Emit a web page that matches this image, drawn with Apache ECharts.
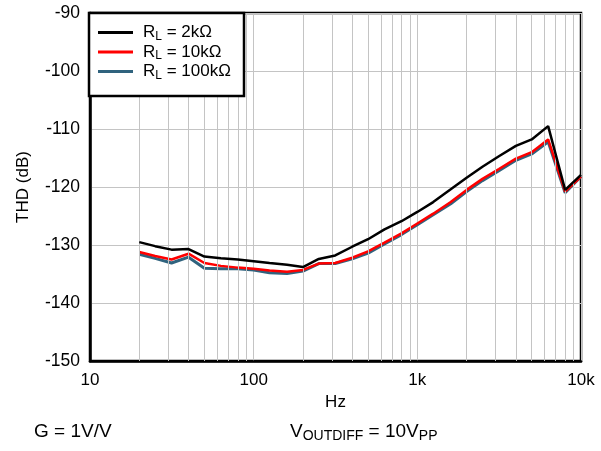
<!DOCTYPE html>
<html><head><meta charset="utf-8">
<script src="https://cdn.jsdelivr.net/npm/echarts@6/dist/echarts.min.js"></script>
<style>html,body{margin:0;padding:0;background:#fff}#c{width:601px;height:451px}</style>
</head><body><div id="c"></div>
<script>
const freqs = [20,25,31.5,40,50,63,80,100,125,160,200,250,315,400,500,630,800,1000,1250,1600,2000,2500,3150,4000,5000,6300,8000,10000];
const thd2k   = [-129.5,-130.2,-130.8,-130.7,-132.0,-132.3,-132.5,-132.8,-133.1,-133.4,-133.8,-132.4,-131.8,-130.3,-129.0,-127.3,-125.9,-124.3,-122.6,-120.4,-118.4,-116.5,-114.7,-112.9,-111.8,-109.5,-120.5,-117.9];
const thd10k  = [-131.2,-131.9,-132.5,-131.5,-133.1,-133.6,-133.9,-134.1,-134.4,-134.6,-134.3,-133.2,-133.1,-132.2,-131.1,-129.6,-128.0,-126.3,-124.6,-122.6,-120.5,-118.6,-116.9,-115.1,-114.0,-111.8,-120.8,-118.2];
const thd100k = [-131.6,-132.3,-133.1,-132.1,-134.0,-134.1,-134.1,-134.3,-134.8,-134.9,-134.5,-133.2,-133.2,-132.4,-131.4,-129.8,-128.2,-126.5,-124.8,-122.9,-120.8,-118.9,-117.2,-115.4,-114.3,-112.2,-121.0,-118.2];
const loadNames = ['2kΩ','10kΩ','100kΩ'];
const seriesColors = ['#000000','#ff0000','#30637e'];
const xTickValues = [10,100,1000,10000];
const xTickLabels = ['10','100','1k','10k'];
const minorGridFreqs = [20,30,40,50,60,70,80,90,200,300,400,500,600,700,800,900,2000,3000,4000,5000,6000,7000,8000,9000];
const yMin = -150, yMax = -90, yStep = 10;
const xName = 'Hz';
const yName = 'THD (dB)';

const FONT = '"Liberation Sans", Arial, sans-serif';
const FS = 17;
const names = loadNames.map(l => 'RL = ' + l);
const richStyles = {
  p: {fontSize: FS, lineHeight: 20, fontFamily: FONT, color: '#000', padding: [0,0,0,5]},
  n: {fontSize: FS, lineHeight: 20, fontFamily: FONT, color: '#000'},
  s: {fontSize: 12, lineHeight: 10, fontFamily: FONT, color: '#000', verticalAlign: 'bottom'}
};
const richNote = {
  n: {fontSize: 19, lineHeight: 22, fontFamily: FONT, color: '#000'},
  s: {fontSize: 14, lineHeight: 12, fontFamily: FONT, color: '#000', verticalAlign: 'bottom'}
};
const dataSets = [thd2k, thd10k, thd100k];
const widths = [2.5, 2.5, 3];
const zs = [5, 4, 3];

const series = dataSets.map((arr, i) => ({
  name: names[i], type: 'line', symbol: 'none', z: zs[i], animation: false,
  data: freqs.map((f, k) => [f, arr[k]]),
  color: seriesColors[i],
  itemStyle: {color: seriesColors[i]},
  lineStyle: {color: seriesColors[i], width: widths[i]}
}));
series.push({
  name: '_grid', type: 'line', data: [], z: 1, animation: false, silent: true,
  markLine: {
    silent: true, symbol: ['none','none'], animation: false,
    label: {show: false},
    lineStyle: {color: '#c4c4c4', width: 1, type: 'solid'},
    emphasis: {disabled: true},
    data: minorGridFreqs.map(v => ({xAxis: v}))
  }
});

const chart = echarts.init(document.getElementById('c'), null, {renderer: 'canvas'});
chart.setOption({
  backgroundColor: '#fff',
  animation: false,
  grid: {left: 90, right: 20, top: 13, bottom: 90, show: true, borderColor: '#000', borderWidth: 2.5, backgroundColor: 'transparent'},
  xAxis: {
    type: 'log', min: 10, max: 10000, logBase: 10,
    name: xName, nameLocation: 'middle', nameGap: 32,
    nameTextStyle: {fontSize: FS, fontFamily: FONT, color: '#000'},
    axisLine: {show: true, lineStyle: {color: '#000', width: 2.5}},
    axisTick: {show: false},
    splitLine: {show: true, lineStyle: {color: '#c4c4c4', width: 1}},
    axisLabel: {fontSize: FS, fontFamily: FONT, color: '#000', margin: 11,
      formatter: v => { const i = xTickValues.indexOf(Math.round(v)); return i >= 0 ? xTickLabels[i] : ''; }}
  },
  yAxis: {
    type: 'value', min: yMin, max: yMax, interval: yStep,
    name: yName, nameLocation: 'middle', nameGap: 58, nameRotate: 90,
    nameTextStyle: {fontSize: FS, fontFamily: FONT, color: '#000'},
    axisLine: {show: true, onZero: false, lineStyle: {color: '#000', width: 2.5}},
    axisTick: {show: false},
    splitLine: {show: true, lineStyle: {color: '#c4c4c4', width: 1}},
    axisLabel: {fontSize: 17.5, fontFamily: FONT, color: '#000', margin: 10}
  },
  legend: {
    data: names, orient: 'vertical', left: 98, top: 24, padding: 0, itemGap: 1,
    icon: 'rect', itemWidth: 35, itemHeight: 3, z: 20, selectedMode: false,
    textStyle: {rich: richStyles},
    formatter: name => '{p|R}{s|L}{n| = ' + loadNames[names.indexOf(name)] + '}'
  },
  graphic: [
    {type: 'rect', z: 10, shape: {x: 89, y: 13, width: 155, height: 83},
     style: {fill: '#fff', stroke: '#000', lineWidth: 2.5}},
    {type: 'text', z: 10, x: 34, y: 432,
     style: {text: '{n|G = 1V/V}', rich: richNote, verticalAlign: 'middle'}},
    {type: 'text', z: 10, x: 290, y: 432,
     style: {text: '{n|V}{s|OUTDIFF}{n| = 10V}{s|PP}', rich: richNote, verticalAlign: 'middle'}}
  ],
  series: series
});
</script>
</body></html>
